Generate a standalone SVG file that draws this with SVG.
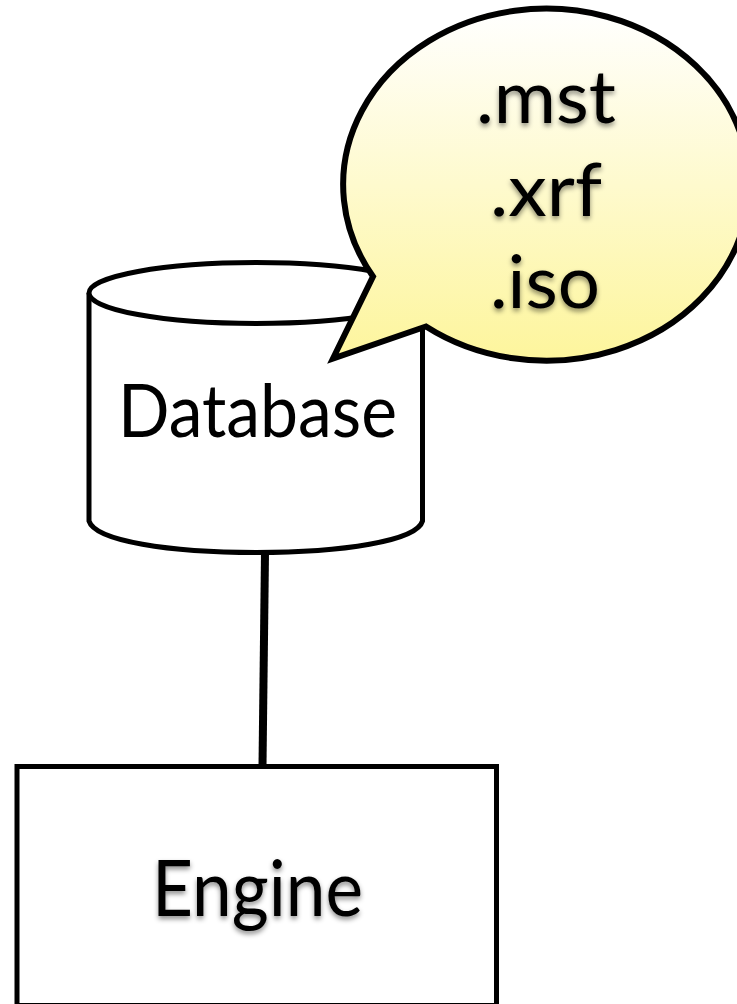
<svg xmlns="http://www.w3.org/2000/svg" width="737" height="1004" viewBox="0 0 737 1004">
<style>
.s{fill:#fff;stroke:#000;stroke-width:5}
.t{font-family:Lato,"Liberation Sans",sans-serif;fill:#000}
.sh{filter:url(#shadow)}
</style>
<defs>
<linearGradient id="bubbleFill" x1="0" y1="0" x2="0" y2="1">
<stop offset="0" stop-color="#ffffff"/>
<stop offset="1" stop-color="#fdf59c"/>
</linearGradient>
<filter id="shadow" x="-20%" y="-30%" width="140%" height="170%">
<feDropShadow dx="0" dy="3" stdDeviation="2.5" flood-color="#000" flood-opacity="0.45"/>
</filter>
</defs>
<rect width="737" height="1004" fill="#fff"/>
<g id="connectors">
<line x1="265" y1="553" x2="262.5" y2="766" stroke="#000" stroke-width="8"/>
</g>
<g id="database">
<path class="s" d="M89,293 V521 C95,541 170,552.5 256,552.5 C342,552.5 417,541 422.5,521 V293"/>
<ellipse class="s" cx="256" cy="293" rx="167" ry="30.5"/>
<text class="t" x="118" y="437" font-size="74" textLength="279" lengthAdjust="spacingAndGlyphs">Database</text>
</g>
<g id="engine">
<rect class="s" x="17" y="766.5" width="479.5" height="239"/>
<text class="t sh" x="152" y="916" font-size="77" textLength="211" lengthAdjust="spacingAndGlyphs">Engine</text>
</g>
<g id="callout">
<path d="M373,276.5 A203,176 0 1 1 426,326.5 L333,358.5 Z" fill="url(#bubbleFill)" stroke="#000" stroke-width="6" stroke-miterlimit="10"/>
<text class="t sh" x="476" y="123" font-size="74" textLength="140" lengthAdjust="spacingAndGlyphs">.mst</text>
<text class="t sh" x="490" y="216" font-size="74" textLength="112" lengthAdjust="spacingAndGlyphs">.xrf</text>
<text class="t sh" x="490" y="308" font-size="74" textLength="110" lengthAdjust="spacingAndGlyphs">.iso</text>
</g>
</svg>
